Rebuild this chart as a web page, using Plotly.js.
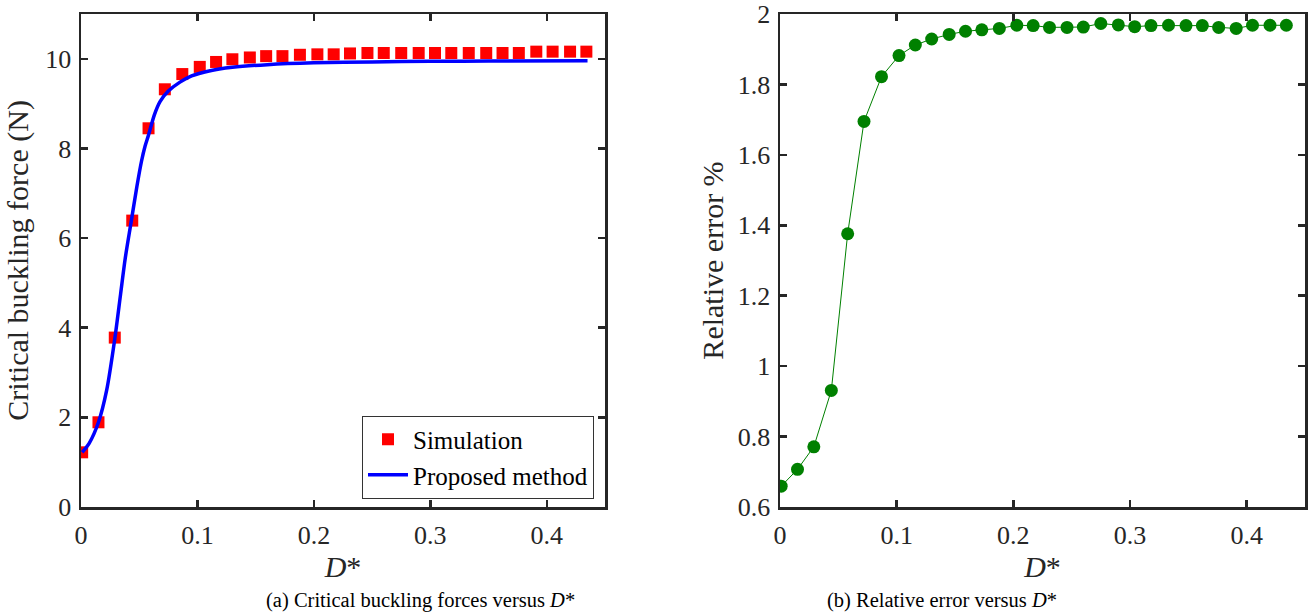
<!DOCTYPE html>
<html>
<head>
<meta charset="utf-8">
<script src="https://cdn.plot.ly/plotly-3.0.1.min.js"></script>
<style>
  html, body { margin: 0; padding: 0; background: #ffffff; }
  #chart { width: 1311px; height: 613px; }
</style>
</head>
<body>
<div id="chart"></div>
<script>
// ---- Data ----
// D* values of the sampled points (shared by both panels)
const dStar = [0.001, 0.015, 0.029, 0.044, 0.058, 0.072, 0.087, 0.102, 0.116, 0.130,
               0.145, 0.159, 0.173, 0.188, 0.203, 0.217, 0.231, 0.246, 0.260, 0.275,
               0.290, 0.304, 0.318, 0.333, 0.348, 0.362, 0.376, 0.391, 0.405, 0.420, 0.434];
// (a) Simulation critical buckling force (N)
const simForce = [1.22, 1.89, 3.78, 6.39, 8.45, 9.32, 9.66, 9.82, 9.93, 9.99,
                  10.03, 10.06, 10.06, 10.09, 10.10, 10.10, 10.12, 10.13, 10.13, 10.13,
                  10.13, 10.13, 10.13, 10.13, 10.13, 10.13, 10.13, 10.16, 10.16, 10.16, 10.16];
// (a) Proposed method curve
const curveX = [0.001, 0.007, 0.015, 0.022, 0.029, 0.034, 0.038, 0.043, 0.048, 0.052,
                0.055, 0.058, 0.063, 0.068, 0.075, 0.085, 0.095, 0.110, 0.130, 0.160,
                0.200, 0.250, 0.300, 0.350, 0.435];
const curveY = [1.22, 1.42, 1.89, 2.60, 3.75, 4.75, 5.55, 6.35, 7.15, 7.72,
                8.05, 8.30, 8.75, 9.05, 9.28, 9.48, 9.62, 9.73, 9.81, 9.87,
                9.91, 9.93, 9.945, 9.95, 9.955];
// (b) Relative error %
const relErr = [0.659, 0.707, 0.771, 0.931, 1.376, 1.695, 1.822, 1.882, 1.912, 1.929,
                1.942, 1.951, 1.955, 1.959, 1.968, 1.967, 1.962, 1.962, 1.963, 1.973,
                1.969, 1.964, 1.967, 1.968, 1.967, 1.967, 1.962, 1.959, 1.968, 1.968, 1.968];
// tick labels
const xTicks = [0, 0.1, 0.2, 0.3, 0.4];
const xTickText = ['0', '0.1', '0.2', '0.3', '0.4'];
const yTicksA = [0, 2, 4, 6, 8, 10];
const yTicksB = [0.6, 0.8, 1.0, 1.2, 1.4, 1.6, 1.8, 2.0];
const yTickTextB = ['0.6', '0.8', '1', '1.2', '1.4', '1.6', '1.8', '2'];

// ---- Figure ----
const W = 1311, H = 613;
const FONT = '"Liberation Serif", "Times New Roman", serif';
const AX = '#262626';

const traces = [
  {
    x: dStar, y: simForce, type: 'scatter', mode: 'markers', name: 'Simulation',
    marker: { symbol: 'square', size: 12, color: '#ff0000' },
    xaxis: 'x', yaxis: 'y'
  },
  {
    x: curveX, y: curveY, type: 'scatter', mode: 'lines', name: 'Proposed method',
    line: { color: '#0000ff', width: 3.5, shape: 'spline', smoothing: 0.8 },
    xaxis: 'x', yaxis: 'y'
  },
  {
    x: dStar, y: relErr, type: 'scatter', mode: 'lines+markers', name: 'Relative error',
    showlegend: false,
    line: { color: '#008000', width: 1 },
    marker: { symbol: 'circle', size: 13, color: '#008000' },
    xaxis: 'x2', yaxis: 'y2'
  }
];

function xAxis(domain, anchor) {
  return {
    domain: domain, anchor: anchor, range: [0, 0.45],
    tickvals: xTicks, ticktext: xTickText,
    showline: true, linecolor: AX, linewidth: 2.5, mirror: 'ticks',
    ticks: 'inside', ticklen: 7, tickwidth: 2.5, tickcolor: AX,
    showgrid: false, zeroline: false,
    tickfont: { family: FONT, size: 26, color: AX },
    ticklabelstandoff: 3,
    title: { text: '<i>D</i>*', font: { family: FONT, size: 30, color: AX }, standoff: 4 }
  };
}
function yAxis(domain, anchor, range, vals, text, title, standoff) {
  return {
    domain: domain, anchor: anchor, range: range,
    tickvals: vals, ticktext: text,
    showline: true, linecolor: AX, linewidth: 2.5, mirror: 'ticks',
    ticks: 'inside', ticklen: 7, tickwidth: 2.5, tickcolor: AX,
    showgrid: false, zeroline: false,
    tickfont: { family: FONT, size: 26, color: AX },
    ticklabelstandoff: 2,
    title: { text: title, font: { family: FONT, size: 30, color: AX }, standoff: standoff }
  };
}

const yDom = [(H - 507) / H, (H - 14) / H];
const layout = {
  width: W, height: H,
  margin: { l: 0, r: 0, t: 0, b: 0 },
  paper_bgcolor: '#ffffff', plot_bgcolor: '#ffffff',
  font: { family: FONT, color: AX },
  showlegend: true,
  xaxis: xAxis([81 / W, 605 / W], 'y'),
  yaxis: yAxis(yDom, 'x', [0, 11], yTicksA, yTicksA.map(String), 'Critical buckling force (N)', 8),
  xaxis2: xAxis([780 / W, 1305 / W], 'y2'),
  yaxis2: yAxis(yDom, 'x2', [0.6, 2.0], yTicksB, yTickTextB, 'Relative error %', 6),
  legend: {
    x: 594 / W, y: (H - 457) / H, xanchor: 'right', yanchor: 'middle',
    bgcolor: '#ffffff', bordercolor: '#333333', borderwidth: 1,
    font: { family: FONT, size: 25, color: '#000000' },
    tracegroupgap: 0, itemwidth: 40
  },
  annotations: [
    {
      text: '(a) Critical buckling forces versus <i>D</i>*',
      xref: 'paper', yref: 'paper', x: 420 / W, y: (H - 600) / H,
      xanchor: 'center', yanchor: 'middle', showarrow: false,
      font: { family: FONT, size: 20.5, color: '#000000' }
    },
    {
      text: '(b) Relative error versus <i>D</i>*',
      xref: 'paper', yref: 'paper', x: 942 / W, y: (H - 600) / H,
      xanchor: 'center', yanchor: 'middle', showarrow: false,
      font: { family: FONT, size: 20.5, color: '#000000' }
    }
  ]
};

Plotly.newPlot('chart', traces, layout, { displayModeBar: false, staticPlot: true });
</script>
</body>
</html>
